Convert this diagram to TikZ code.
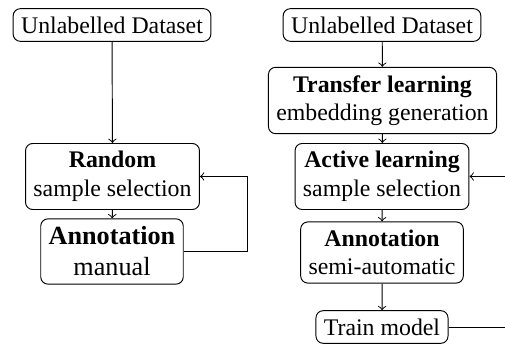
\documentclass[tikz,border=0pt]{standalone}
\usepackage{fontspec}
\setmainfont{Liberation Serif}
\usetikzlibrary{arrows}
\usetikzlibrary{shapes}

\begin{document}
\begin{tikzpicture}[scale = 1.476, font=\fontsize{10}{12}\selectfont]
	\useasboundingbox (0,0) rectangle (5.05,3.43);
	\tikzstyle{EdgeStyle} = [->]
	\tikzstyle{stepBox}=[shape = rectangle, rounded corners = 3pt, align = center, inner sep = 3.33pt, draw]
	\tikzstyle{bigBox}=[stepBox, font = \fontsize{11}{13}\selectfont]
	\node[stepBox] (u1) at (1.12, 3.18) {Unlabelled Dataset};
	\node[stepBox] (rand) at (1.125, 1.665) {\textbf{Random}\\sample selection};
	\node[bigBox] (ann1) at (1.12, 0.915) {\textbf{Annotation}\\manual};
	\node[stepBox] (u2) at (3.82, 3.18) {Unlabelled Dataset};
	\node[stepBox] (tl) at (3.825, 2.425) {\textbf{Transfer learning}\\embedding generation};
	\node[stepBox] (al) at (3.82, 1.665) {\textbf{Active learning}\\sample selection};
	\node[stepBox] (ann2) at (3.82, 0.905) {\textbf{Annotation}\\semi-automatic};
	\node[stepBox] (tm) at (3.82, 0.16) {Train model};
	\coordinate (loopL) at (2.47, 0.915);
	\coordinate (edgeR) at (5.05, 0.16);
	\draw[EdgeStyle] (u1) -- (rand);
	\draw[EdgeStyle] (rand) -- (ann1);
	\draw[EdgeStyle] (u2) -- (tl);
	\draw[EdgeStyle] (tl) -- (al);
	\draw[EdgeStyle] (al) -- (ann2);
	\draw[EdgeStyle] (ann2) -- (tm);
	% feedback loops
	\draw[EdgeStyle] (ann1.east) -- (loopL) |- (rand.east);
	\draw (tm.east) -- (edgeR);
	\draw[EdgeStyle] (edgeR |- al.east) -- (al.east);
\end{tikzpicture}
\end{document}
